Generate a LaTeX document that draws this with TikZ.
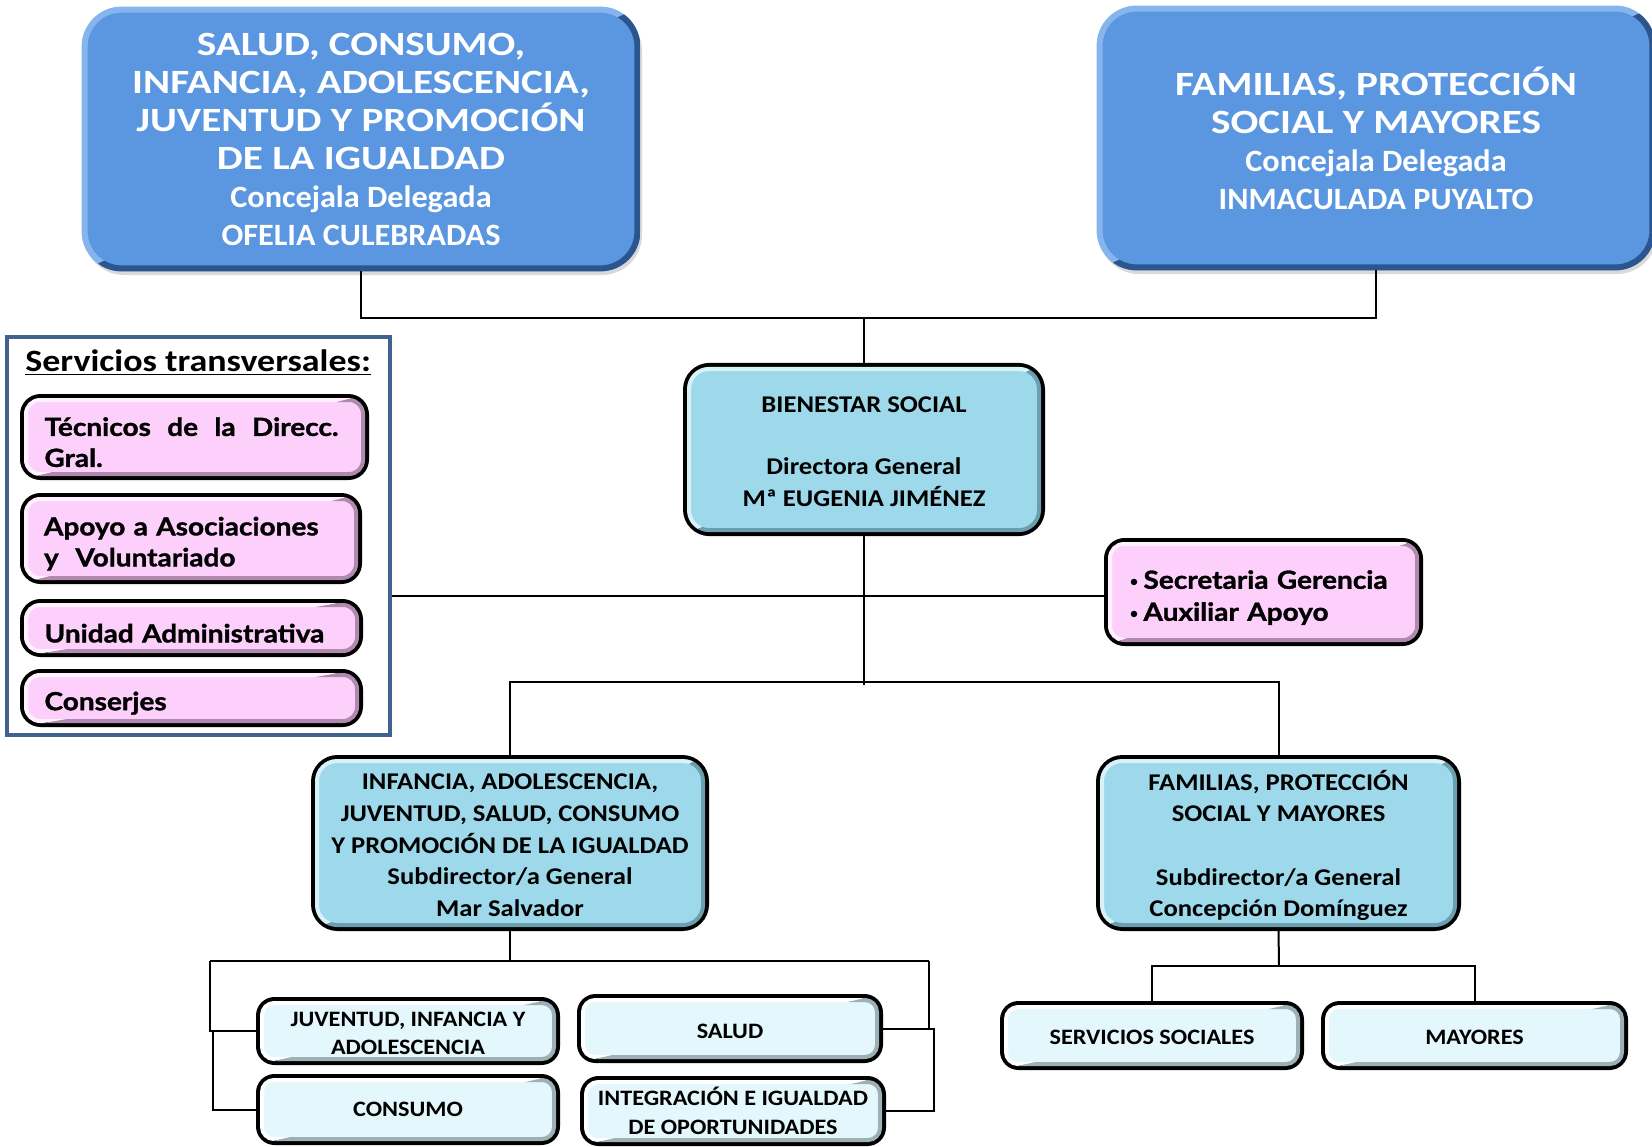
\documentclass[tikz,border=0pt]{standalone}
\usepackage{fontspec}
\setmainfont{Carlito}
\newfontfamily\hdfont[FakeStretch=1.21]{Carlito}
\newfontfamily\cjfont[FakeStretch=1.04]{Carlito}
\newfontfamily\cyfont[FakeStretch=1.11]{Carlito}
\newfontfamily\pafont[FakeStretch=1.10]{Carlito}
\newfontfamily\titfont[FakeStretch=1.16]{Carlito}
\newfontfamily\gill[FakeStretch=1.12, BoldFeatures={FakeBold=1.3}]{Lato}
\newfontfamily\bul{Carlito}
\usetikzlibrary{shadows}
\definecolor{topblue}{HTML}{5B97E0}
\definecolor{topdark}{HTML}{2A558F}
\definecolor{toplight}{HTML}{86B5EE}
\definecolor{cyanbox}{HTML}{9DD9EA}
\definecolor{cyanlight}{HTML}{D8F2FA}
\definecolor{cyandark}{HTML}{6C9FAE}
\definecolor{pinkbox}{HTML}{FDD0FC}
\definecolor{pinklight}{HTML}{FFF2FF}
\definecolor{pinkdark}{HTML}{B08AAE}
\definecolor{palebox}{HTML}{E4F7FC}
\definecolor{palelight}{HTML}{FFFFFF}
\definecolor{paledark}{HTML}{9DB0B5}
\definecolor{frameblue}{HTML}{41618F}
\newcommand\lowr[2]{\raisebox{-#1}[\height][\depth]{#2}}
\newcommand\smbul{\makebox[7pt][l]{\raisebox{0.6pt}{\bul\mdseries\fontsize{9pt}{9pt}\selectfont•}}}
\newcommand\mybevel[6]{%
  \begin{scope}
    \clip (#1.south west) -- (#1.north west) -- (#1.north east) -- cycle;
    \draw[#2, line width=#5, rounded corners=#6] ([shift={(#4,#4)}]#1.south west) rectangle ([shift={(-#4,-#4)}]#1.north east);
  \end{scope}
  \begin{scope}
    \clip (#1.south west) -- (#1.south east) -- (#1.north east) -- cycle;
    \draw[#3, line width=#5, rounded corners=#6] ([shift={(#4,#4)}]#1.south west) rectangle ([shift={(-#4,-#4)}]#1.north east);
  \end{scope}}
\tikzset{
  topbox/.style={rounded corners=20pt, fill=topblue, text=white, align=center,
    font=\hdfont\bfseries\fontsize{17pt}{19pt}\selectfont, inner sep=0pt,
    drop shadow={shadow xshift=1pt, shadow yshift=-2pt, opacity=0.3}},
  darkbox/.style={rounded corners=12pt, draw=black, line width=2.6pt, inner sep=0pt, align=center,
    font=\cyfont\bfseries\fontsize{12pt}{15.8pt}\selectfont},
  cyanbx/.style={darkbox, fill=cyanbox},
  pinkbx/.style={darkbox, fill=pinkbox, align=left, rounded corners=9pt,
    font=\gill\bfseries\fontsize{12.5pt}{15.5pt}\selectfont},
  palebx/.style={darkbox, fill=palebox, rounded corners=8pt,
    font=\pafont\bfseries\fontsize{11pt}{14.2pt}\selectfont},
  conn/.style={draw=black, line width=1pt},
}
\begin{document}
\begin{tikzpicture}[x=0.5pt, y=-0.5pt]
\useasboundingbox (0,0) rectangle (1652,1146);
\clip (0,0) rectangle (1652,1146);

% top boxes
\node[topbox, minimum width=279pt, minimum height=132pt] (TL) at (361,139)
  {SALUD, CONSUMO,\\INFANCIA, ADOLESCENCIA,\\JUVENTUD Y PROMOCIÓN\\DE LA IGUALDAD\\
   {\cjfont\fontsize{15.5pt}{19.5pt}\selectfont Concejala Delegada}\\
   {\cjfont\fontsize{15.5pt}{19.5pt}\selectfont OFELIA CULEBRADAS}};
\node[topbox, minimum width=279pt, minimum height=132pt] (TR) at (1376,138)
  {FAMILIAS, PROTECCIÓN\\SOCIAL Y MAYORES\\
   {\cjfont\fontsize{15.5pt}{19pt}\selectfont Concejala Delegada}\\
   {\cjfont\fontsize{15.5pt}{19pt}\selectfont INMACULADA PUYALTO}};
\mybevel{TL}{toplight}{topdark}{1.5pt}{3pt}{18.5pt}
\mybevel{TR}{toplight}{topdark}{1.5pt}{3pt}{18.5pt}

% Bienestar
\node[cyanbx, minimum width=178.4pt, minimum height=84pt] (BS) at (864,449.5)
  {\lowr{1pt}{\parbox{170pt}{\centering BIENESTAR SOCIAL\\[15.5pt]Directora General\\Mª EUGENIA JIMÉNEZ}}};
\mybevel{BS}{cyanlight}{cyandark}{3pt}{2pt}{10pt}

% Servicios transversales frame
\node[draw=frameblue, line width=2pt, minimum width=191.5pt, minimum height=199pt] (ST) at (198.5,536) {};
\node[anchor=west, inner sep=0pt, font=\titfont\bfseries\fontsize{15.5pt}{18pt}\selectfont] (TT) at (25,363)
  {\underline{Servicios transversales:}};

\node[pinkbx, minimum width=171.9pt, minimum height=40.4pt, inner xsep=10.5pt, text width=150pt] (P1) at (194.5,437)
  {\lowr{2.6pt}{\parbox{150pt}{\makebox[147pt][l]{Técnicos\hfill de\hfill la\hfill Direcc.}\\Gral.}}};
\node[pinkbx, minimum width=168.4pt, minimum height=42.9pt, inner xsep=10.5pt, text width=147pt] (P2) at (191,538.5)
  {\lowr{2.6pt}{\parbox{147pt}{Apoyo a Asociaciones\\y\ \ Voluntariado}}};
\node[pinkbx, minimum width=168.9pt, minimum height=26.4pt, inner xsep=10.5pt, text width=147pt] (P3) at (191.5,628)
  {\lowr{2.6pt}{Unidad Administrativa}};
\node[pinkbx, minimum width=168.9pt, minimum height=26.4pt, inner xsep=10.5pt, text width=147pt] (P4) at (191.5,698)
  {\lowr{2.6pt}{Conserjes}};
\mybevel{P1}{pinklight}{pinkdark}{3pt}{2pt}{7pt}
\mybevel{P2}{pinklight}{pinkdark}{3pt}{2pt}{7pt}
\mybevel{P3}{pinklight}{pinkdark}{3pt}{2pt}{7pt}
\mybevel{P4}{pinklight}{pinkdark}{3pt}{2pt}{7pt}

% Secretaria
\node[pinkbx, minimum width=156.9pt, minimum height=51.4pt, inner xsep=11pt, text width=134pt] (SG) at (1263.5,592)
  {\lowr{2.8pt}{\parbox{134pt}{\smbul Secretaria Gerencia\\[0.5pt]\smbul Auxiliar Apoyo}}};
\mybevel{SG}{pinklight}{pinkdark}{3pt}{2pt}{7pt}

% Subdirecciones
\node[cyanbx, minimum width=196.4pt, minimum height=85.4pt] (SL) at (510,843)
  {\lowr{1.2pt}{\parbox{195pt}{\centering INFANCIA, ADOLESCENCIA,\\JUVENTUD, SALUD, CONSUMO\\Y PROMOCIÓN DE LA IGUALDAD\\Subdirector/a General\\Mar Salvador}}};
\node[cyanbx, minimum width=179.9pt, minimum height=85.4pt] (SR) at (1278.5,843)
  {\lowr{1.2pt}{\parbox{178pt}{\centering FAMILIAS, PROTECCIÓN\\SOCIAL Y MAYORES\\[15.8pt]Subdirector/a General\\Concepción Domínguez}}};
\mybevel{SL}{cyanlight}{cyandark}{3pt}{2pt}{10pt}
\mybevel{SR}{cyanlight}{cyandark}{3pt}{2pt}{10pt}

% bottom boxes
\node[palebx, minimum width=149.4pt, minimum height=31.4pt] (JU) at (408,1031)
  {\lowr{1.2pt}{\parbox{148pt}{\centering JUVENTUD, INFANCIA Y\\ADOLESCENCIA}}};
\node[palebx, minimum width=150.4pt, minimum height=31.9pt] (SA) at (730,1028.5) {\lowr{1.2pt}{SALUD}};
\node[palebx, minimum width=149.4pt, minimum height=32.9pt] (CO) at (408,1109.5) {CONSUMO};
\node[palebx, minimum width=150.4pt, minimum height=32.4pt] (IN) at (733,1111)
  {\parbox{150pt}{\centering INTEGRACIÓN E IGUALDAD\\DE OPORTUNIDADES}};
\node[palebx, minimum width=149.4pt, minimum height=31.9pt] (SS) at (1152,1035.5) {\lowr{1pt}{SERVICIOS SOCIALES}};
\node[palebx, minimum width=150.9pt, minimum height=31.9pt] (MY) at (1474.5,1035.5) {\lowr{1pt}{MAYORES}};
\foreach \n in {JU,SA,CO,IN,SS,MY} {\mybevel{\n}{palelight}{paledark}{3pt}{2pt}{6pt}}

% connectors
\coordinate (jt) at (864,318);
\draw[conn] (TL.south) |- (jt) -| (TR.south);
\draw[conn] (jt) -- (BS.north);
\coordinate (jm) at (864,682);
\coordinate (jmb) at (864,685);
\draw[conn] (BS.south) -- (jmb);
\draw[conn] (SL.north) |- (jm) -| (SR.north);
\draw[conn] ([yshift=-2pt]SG.west) -- ([yshift=-2pt]SG.west -| ST.east);

\coordinate (jl) at (510,961);
\coordinate (la) at (210,961);
\coordinate (ra) at (929,961);
\coordinate (lb) at (213,1070);
\coordinate (rb) at (934,1070);
\draw[conn] (SL.south) -- (jl);
\draw[conn] (la) -- (ra);
\draw[conn] (la) |- (JU.west);
\draw[conn] (JU.west) -| (lb) |- (CO.west);
\draw[conn] (ra) |- (SA.east);
\draw[conn] (SA.east) -| (rb) |- (IN.east);

\coordinate (jr) at (1279,966);
\draw[conn] (SR.south) -- (jr);
\draw[conn] (SS.north) |- (jr) -| (MY.north);
\end{tikzpicture}
\end{document}
